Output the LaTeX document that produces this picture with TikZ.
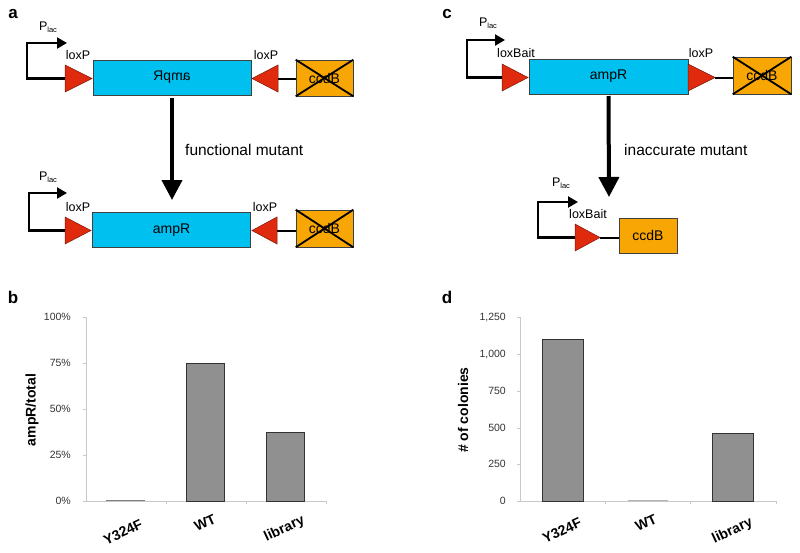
\documentclass[tikz,border=0pt]{standalone}
\usepackage{fontspec}
\setmainfont{Liberation Sans}
\usetikzlibrary{arrows.meta}
\definecolor{ampblue}{HTML}{00C0F0}
\definecolor{ccdorange}{HTML}{F8A604}
\definecolor{loxred}{HTML}{E02A0E}
\definecolor{bargray}{HTML}{909090}
\definecolor{axisgray}{HTML}{C8C8C8}
\newcommand{\fs}[1]{\fontsize{#1}{#1}\selectfont}
\newcommand{\plac}{P\raisebox{-1.5pt}{\fs{7.5}lac}}
\begin{document}
\begin{tikzpicture}[x=1pt,y=-1pt,
  panel/.style={font=\bfseries\fs{17}, inner sep=0pt},
  genebox/.style={draw=black!75, line width=0.6pt, inner sep=0pt, font=\fs{14}},
  ampbox/.style={genebox, fill=ampblue, minimum width=158pt, minimum height=35pt},
  ccdbox/.style={genebox, fill=ccdorange, minimum width=57pt, minimum height=36pt},
  lox/.style={fill=loxred, draw=loxred!55!black, line width=0.5pt},
  wire/.style={line width=2pt, black},
  prom/.style={line width=2.2pt, black, -{Triangle[length=10pt,width=11pt]}},
  cross/.style={line width=1.8pt, black},
  lbl/.style={font=\fs{12.5}, inner sep=0pt},
  bigarrow/.style={line width=4pt, -{Triangle[length=20pt,width=20pt]}},
  mut/.style={font=\fs{15.5}, anchor=west, inner sep=0pt},
  axis/.style={draw=axisgray, line width=0.8pt},
  tick/.style={font=\fs{10.5}, text=black!80, anchor=east, inner sep=0pt},
  cat/.style={font=\bfseries\fs{14}, rotate=25, inner sep=0pt},
  ytitle/.style={font=\bfseries\fs{14}, rotate=90, inner sep=0pt},
  bar/.style={fill=bargray, draw=black!80, line width=0.8pt}
]
\useasboundingbox (0,0) rectangle (800,552);

%% ---------- panel a, top ----------
\node[panel] (la) at (13,14) {a};
\node[lbl] (pa1) at (48,27) {\plac};
\path[lox] (65,65) -- (92,78.5) -- (65,92) -- cycle;
\coordinate (la1) at (65,78.5);
\node[ampbox] (amp1) at (172,77.5) {\reflectbox{ampR}};
\path[lox] (278,65) -- (252,78.5) -- (278,92) -- cycle;
\coordinate (rl1) at (278,78.5);
\node[ccdbox] (ccd1) at (324.5,78) {ccdB};
\draw[cross] (ccd1.north west) -- (ccd1.south east) (ccd1.north east) -- (ccd1.south west);
\draw[wire] (rl1) -- (ccd1.west |- rl1);
\coordinate (pt1) at (67,43);
\draw[prom] (la1) -- (27,78.5) -- (27,43) -- (pt1);
\node[lbl] (lp1) at (78,55) {loxP};
\node[lbl] (lp2) at (266,55) {loxP};

\coordinate (at1) at (172,200);
\draw[bigarrow] (amp1.south |- 0,98) -- (at1);
\node[mut] (fm) at (185,150) {functional mutant};

%% ---------- panel a, bottom ----------
\node[lbl] (pa2) at (48,177) {\plac};
\path[lox] (65,217) -- (91,230.5) -- (65,244) -- cycle;
\coordinate (la2) at (65,230.5);
\node[ampbox] (amp2) at (171.5,230) {ampR};
\path[lox] (277,217) -- (252,230.5) -- (277,244) -- cycle;
\coordinate (rl2) at (277,230.5);
\node[ccdbox, minimum height=37pt] (ccd2) at (324.5,228.5) {ccdB};
\draw[cross] (ccd2.north west) -- (ccd2.south east) (ccd2.north east) -- (ccd2.south west);
\draw[wire] (rl2) -- (ccd2.west |- rl2);
\coordinate (pt2) at (67,193);
\draw[prom] (la2) -- (29,230.5) -- (29,193) -- (pt2);
\node[lbl] (lp3) at (78,207) {loxP};
\node[lbl] (lp4) at (265,207) {loxP};

%% ---------- panel c, top ----------
\node[panel] (lc) at (447,14) {c};
\node[lbl] (pc1) at (488,23) {\plac};
\path[lox] (502,64) -- (528,77.5) -- (502,91) -- cycle;
\coordinate (lb1) at (502,77.5);
\node[ampbox, minimum width=159pt] (amp3) at (608.5,76.5) {ampR};
\path[lox] (688,64) -- (715,77.5) -- (688,91) -- cycle;
\coordinate (rl3) at (715,77.5);
\node[ccdbox, minimum width=58pt, minimum height=37pt] (ccd3) at (762,75.5) {ccdB};
\draw[cross] (ccd3.north west) -- (ccd3.south east) (ccd3.north east) -- (ccd3.south west);
\draw[wire] (rl3) -- (ccd3.west |- rl3);
\coordinate (pt3) at (505,40);
\draw[prom] (lb1) -- (467,77.5) -- (467,40) -- (pt3);
\node[lbl] (lb1l) at (516,53) {loxBait};
\node[lbl] (lp5) at (701,53) {loxP};

\coordinate (at2) at (609,197);
\draw[bigarrow] (amp3.south |- 0,96) -- (at2);
\node[mut] (im) at (624,150) {inaccurate mutant};

%% ---------- panel c, bottom ----------
\node[lbl] (pc2) at (561,183) {\plac};
\path[lox] (575,224) -- (600,237.5) -- (575,251) -- cycle;
\coordinate (lb2) at (575,237.5);
\coordinate (lb2r) at (600,237.5);
\node[ccdbox, minimum width=58pt, minimum height=35pt] (ccd4) at (648,235.5) {ccdB};
\draw[wire] (lb2r) -- (ccd4.west |- lb2r);
\coordinate (pt4) at (578,202);
\draw[prom] (lb2) -- (538,237.5) -- (538,202) -- (pt4);
\node[lbl] (lb2l) at (588,214) {loxBait};

%% ---------- panel b ----------
\node[panel] (lbp) at (13,297) {b};
\draw[axis] (86,317) -- (86,501) -- (326,501);
\foreach \x in {166,246,326} \draw[axis] (\x,501) -- (\x,504);
\foreach \y/\t in {317/100\%,363/75\%,409/50\%,455/25\%,501/0\%} {
  \draw[axis] (83,\y) -- (86,\y);
  \node[tick] at (71,\y) {\t};
}
\draw[black!50, line width=0.8pt] (106,500.5) -- (145,500.5);
\path[bar] (186,363) rectangle (224,501);
\path[bar] (266,432) rectangle (304,501);
\node[ytitle] (ylb) at (32,410) {ampR/total};
\node[cat] (cb1) at (123,532) {Y324F};
\node[cat] (cb2) at (205,523) {WT};
\node[cat] (cb3) at (284.5,529) {library};

%% ---------- panel d ----------
\node[panel] (ld) at (447,297) {d};
\draw[axis] (520,317) -- (520,501) -- (776,501);
\foreach \x in {605,690,776} \draw[axis] (\x,501) -- (\x,504);
\foreach \y/\t in {317/{1,250},354/{1,000},391/750,428/500,464/250,501/0} {
  \draw[axis] (517,\y) -- (520,\y);
  \node[tick] at (506,\y) {\t};
}
\draw[black!30, line width=1pt] (628,500.5) -- (668,500.5);
\path[bar] (542,339) rectangle (583,501);
\path[bar] (712,433) rectangle (753,501);
\node[ytitle] (yld) at (463,410) {\# of colonies};
\node[cat] (cd1) at (562,530.5) {Y324F};
\node[cat] (cd2) at (646,523) {WT};
\node[cat] (cd3) at (732.5,531) {library};
\end{tikzpicture}
\end{document}
